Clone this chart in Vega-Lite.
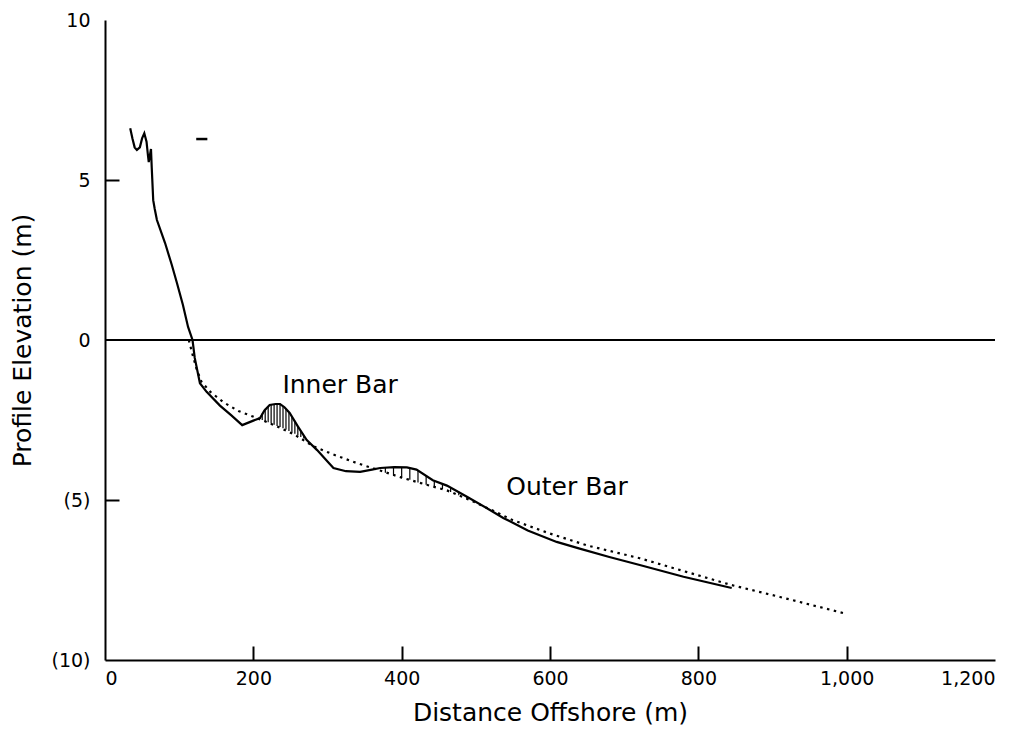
{
  "$schema": "https://vega.github.io/schema/vega-lite/v6.json",
  "width": 890,
  "height": 640,
  "autosize": "none",
  "padding": {"left": 105, "top": 20, "right": 31, "bottom": 70},
  "background": "white",
  "config": {
    "view": {"stroke": null},
    "font": "DejaVu Sans",
    "axis": {"grid": false, "domainColor": "black", "domainWidth": 2, "tickColor": "black", "tickWidth": 2, "labelColor": "black", "titleColor": "black", "labelFont": "DejaVu Sans", "titleFont": "DejaVu Sans", "labelFontSize": 19, "titleFontSize": 25, "titleFontWeight": "normal"}
  },
  "datasets": {
    "profile": [
      {"x": 34, "y": 6.62}, {"x": 37, "y": 6.3}, {"x": 40, "y": 6.02}, {"x": 43, "y": 5.94}, {"x": 47, "y": 6.02}, {"x": 50, "y": 6.3}, {"x": 53, "y": 6.46},
      {"x": 56, "y": 6.2}, {"x": 58, "y": 5.75}, {"x": 59, "y": 5.56}, {"x": 62, "y": 5.97}, {"x": 63, "y": 5.4}, {"x": 65, "y": 4.37},
      {"x": 67, "y": 4.1}, {"x": 70, "y": 3.75}, {"x": 81, "y": 3.03}, {"x": 90, "y": 2.35}, {"x": 97, "y": 1.78}, {"x": 105, "y": 1.1},
      {"x": 112, "y": 0.41}, {"x": 118, "y": 0.0}, {"x": 121, "y": -0.56}, {"x": 128, "y": -1.35}, {"x": 137, "y": -1.62},
      {"x": 155, "y": -2.05}, {"x": 170, "y": -2.35}, {"x": 185, "y": -2.66}, {"x": 200, "y": -2.52}, {"x": 209, "y": -2.44},
      {"x": 215, "y": -2.2}, {"x": 222, "y": -2.03}, {"x": 230, "y": -2.0}, {"x": 236, "y": -2.0}, {"x": 242, "y": -2.1},
      {"x": 249, "y": -2.28}, {"x": 260, "y": -2.7}, {"x": 272, "y": -3.13}, {"x": 286, "y": -3.44}, {"x": 300, "y": -3.8},
      {"x": 308, "y": -4.0}, {"x": 325, "y": -4.1}, {"x": 344, "y": -4.12}, {"x": 360, "y": -4.05}, {"x": 371, "y": -4.0},
      {"x": 390, "y": -3.97}, {"x": 407, "y": -3.98}, {"x": 420, "y": -4.05}, {"x": 442, "y": -4.38}, {"x": 461, "y": -4.55},
      {"x": 488, "y": -4.9}, {"x": 519, "y": -5.31}, {"x": 537, "y": -5.56}, {"x": 570, "y": -5.95}, {"x": 609, "y": -6.31},
      {"x": 640, "y": -6.52}, {"x": 680, "y": -6.78}, {"x": 721, "y": -7.03}, {"x": 780, "y": -7.4}, {"x": 845, "y": -7.75}
    ],
    "equilibrium": [
      {"x": 113, "y": 0.0}, {"x": 118, "y": -0.45}, {"x": 124, "y": -0.95}, {"x": 130, "y": -1.3}, {"x": 142, "y": -1.62},
      {"x": 160, "y": -1.95}, {"x": 180, "y": -2.22}, {"x": 205, "y": -2.44}, {"x": 230, "y": -2.68}, {"x": 255, "y": -2.95},
      {"x": 281, "y": -3.32}, {"x": 308, "y": -3.58}, {"x": 340, "y": -3.85}, {"x": 371, "y": -4.08}, {"x": 400, "y": -4.3},
      {"x": 430, "y": -4.5}, {"x": 461, "y": -4.7}, {"x": 490, "y": -4.98}, {"x": 520, "y": -5.3}, {"x": 550, "y": -5.63},
      {"x": 600, "y": -6.05}, {"x": 650, "y": -6.42}, {"x": 721, "y": -6.82}, {"x": 780, "y": -7.22}, {"x": 845, "y": -7.66},
      {"x": 910, "y": -8.03}, {"x": 995, "y": -8.53}
    ],
    "hatch": [
      {"x": 212, "y": -2.3, "y2": -2.5}, {"x": 216, "y": -2.15, "y2": -2.54}, {"x": 220, "y": -2.06, "y2": -2.57},
      {"x": 224, "y": -2.02, "y2": -2.61}, {"x": 228, "y": -2.0, "y2": -2.65}, {"x": 232, "y": -2.0, "y2": -2.69},
      {"x": 236, "y": -2.0, "y2": -2.72}, {"x": 240, "y": -2.06, "y2": -2.76}, {"x": 244, "y": -2.15, "y2": -2.8},
      {"x": 248, "y": -2.26, "y2": -2.84}, {"x": 252, "y": -2.38, "y2": -2.89}, {"x": 256, "y": -2.52, "y2": -2.93},
      {"x": 260, "y": -2.68, "y2": -2.98}, {"x": 264, "y": -2.85, "y2": -3.03}, {"x": 268, "y": -3.0, "y2": -3.08},
      {"x": 378, "y": -3.99, "y2": -4.15}, {"x": 389, "y": -3.97, "y2": -4.22}, {"x": 400, "y": -3.97, "y2": -4.3},
      {"x": 411, "y": -4.0, "y2": -4.37}, {"x": 422, "y": -4.08, "y2": -4.45}, {"x": 433, "y": -4.22, "y2": -4.52},
      {"x": 444, "y": -4.39, "y2": -4.6}, {"x": 455, "y": -4.5, "y2": -4.66}, {"x": 466, "y": -4.6, "y2": -4.75},
      {"x": 477, "y": -4.74, "y2": -4.85}, {"x": 488, "y": -4.9, "y2": -4.96}
    ],
    "zero": [{"x": 0, "y": 0}, {"x": 1200, "y": 0}],
    "dash": [{"x": 123, "x2": 138, "y": 6.28}],
    "notes": [
      {"x": 317, "y": -1.66, "text": "Inner Bar"},
      {"x": 623, "y": -4.84, "text": "Outer Bar"}
    ]
  },
  "encoding": {
    "x": {
      "field": "x", "type": "quantitative",
      "scale": {"domain": [0, 1200], "nice": false, "zero": false},
      "axis": {
        "title": "Distance Offshore (m)", "values": [0, 200, 400, 600, 800, 1000, 1200], "format": ",.0f",
        "tickSize": -14, "labelPadding": 23, "titlePadding": 12,
        "tickOpacity": {"condition": {"test": "datum.value == 0 || datum.value == 1200", "value": 0}, "value": 1}
      }
    },
    "y": {
      "field": "y", "type": "quantitative",
      "scale": {"domain": [-10, 10], "nice": false, "zero": false},
      "axis": {
        "title": "Profile Elevation (m)", "values": [-10, -5, 0, 5, 10],
        "labelExpr": "datum.value < 0 ? '(' + (-datum.value) + ')' : '' + datum.value",
        "tickSize": -14, "labelPadding": 29, "titlePadding": 15,
        "tickOpacity": {"condition": {"test": "abs(datum.value) == 5", "value": 1}, "value": 0}
      }
    }
  },
  "layer": [
    {"data": {"name": "zero"}, "mark": {"type": "line", "color": "black", "strokeWidth": 2}},
    {"data": {"name": "hatch"}, "mark": {"type": "rule", "color": "black", "strokeWidth": 1.2}, "encoding": {"y2": {"field": "y2"}}},
    {"data": {"name": "equilibrium"}, "mark": {"type": "line", "color": "black", "strokeWidth": 2.2, "strokeDash": [2.5, 4.5]}},
    {"data": {"name": "profile"}, "mark": {"type": "line", "color": "black", "strokeWidth": 2.2}, "encoding": {"x": {"field": "x", "type": "quantitative", "sort": null}}},
    {"data": {"name": "dash"}, "mark": {"type": "rule", "color": "black", "strokeWidth": 2.5}, "encoding": {"x2": {"field": "x2"}}},
    {"data": {"name": "notes"}, "mark": {"type": "text", "font": "DejaVu Sans", "fontSize": 25, "color": "black", "align": "center", "baseline": "alphabetic"}, "encoding": {"text": {"field": "text"}}}
  ]
}
